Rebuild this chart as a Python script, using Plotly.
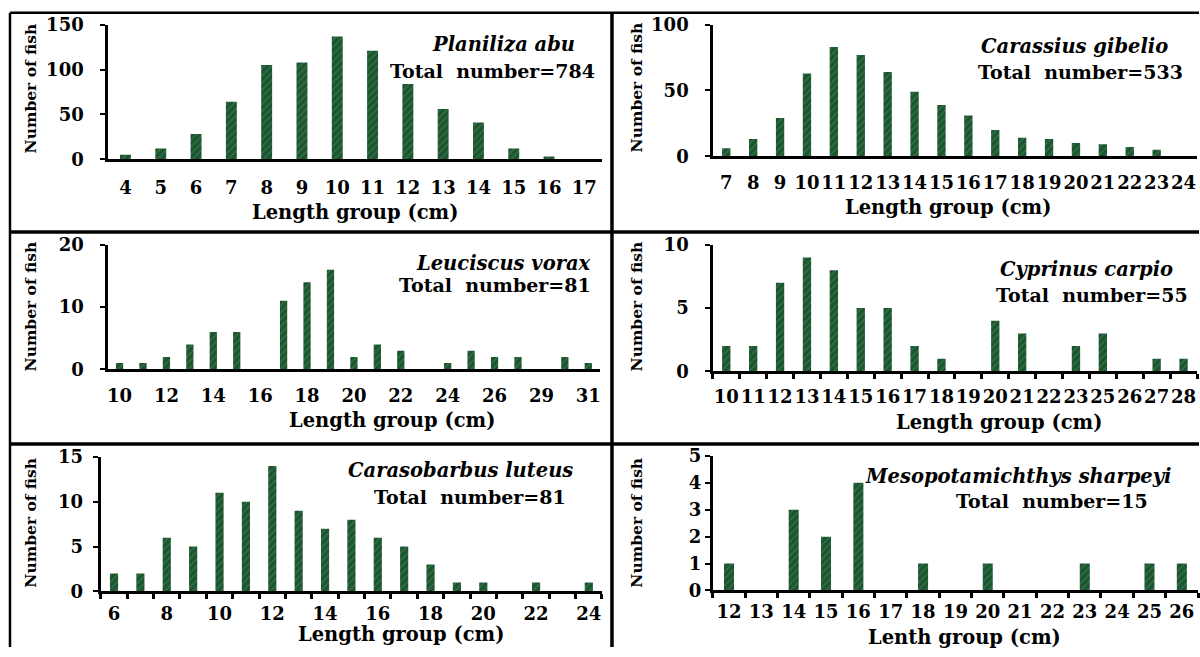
import plotly.graph_objects as go

# ---------------- data ----------------
abu_len = ["4", "5", "6", "7", "8", "9", "10", "11", "12", "13", "14", "15", "16", "17"]
abu_n = [5, 12, 28, 64, 105, 108, 137, 121, 84, 56, 41, 12, 3, 0]

gib_len = ["7", "8", "9", "10", "11", "12", "13", "14", "15", "16", "17", "18", "19", "20", "21", "22", "23", "24"]
gib_n = [6, 13, 29, 63, 83, 77, 64, 49, 39, 31, 20, 14, 13, 10, 9, 7, 5, 0]

vor_len = ["10", "11", "12", "13", "14", "15", "16", "17", "18", "19", "20", "21", "22", "23", "24", "25", "26", "27", "29", "30", "31"]
vor_n = [1, 1, 2, 4, 6, 6, 0, 11, 14, 16, 2, 4, 3, 0, 1, 3, 2, 2, 0, 2, 1]

car_len = ["10", "11", "12", "13", "14", "15", "16", "17", "18", "19", "20", "21", "22", "23", "25", "26", "27", "28"]
car_n = [2, 2, 7, 9, 8, 5, 5, 2, 1, 0, 4, 3, 0, 2, 3, 0, 1, 1]

lut_len = ["6", "7", "8", "9", "10", "11", "12", "13", "14", "15", "16", "17", "18", "19", "20", "21", "22", "23", "24"]
lut_n = [2, 2, 6, 5, 11, 10, 14, 9, 7, 8, 6, 5, 3, 1, 1, 0, 1, 0, 1]

sha_len = ["12", "13", "14", "15", "16", "17", "18", "19", "20", "21", "22", "23", "24", "25", "26"]
sha_n = [1, 0, 3, 2, 4, 0, 1, 0, 1, 0, 0, 1, 0, 1, 1]

species = ["Planiliza abu", "Carassius gibelio", "Leuciscus vorax",
           "Cyprinus carpio", "Carasobarbus luteus", "Mesopotamichthys sharpeyi"]
totals = [784, 533, 81, 55, 81, 15]
x_titles = ["Length group (cm)", "Length group (cm)", "Length group (cm)",
            "Length group (cm)", "Length group (cm)", "Lenth group (cm)"]
y_title = "Number of fish"
y_max = [150, 100, 20, 10, 15, 5]
y_dtick = [50, 50, 10, 5, 5, 1]

# ---------------- layout helpers ----------------
W, H = 1200, 657
Y0, SY = 8.2, 0.972   # observed vertical placement of the figure in the screenshot
def px(x):
    return min(max(x / W, 0), 1)
def py(y):
    return min(max(1 - ((y - Y0) / SY) / H, 0), 1)

FONT = "DejaVu Serif"
BAR = "#1d5530"
NB = "\u00a0"

panels = [
    dict(cats=abu_len, vals=abu_n, x=(107, 602), y=(157, 22), xt=(355, 211), yt=(30, 86),
         sp=(577, 42), tn=(597, 68), every=1, xticks=False, stand=10, ygap=2),
    dict(cats=gib_len, vals=gib_n, x=(713, 1198), y=(154, 22), xt=(949, 206), yt=(637, 85),
         sp=(1171, 44), tn=(1186, 69), every=1, xticks=False, stand=8, ygap=2),
    dict(cats=vor_len, vals=vor_n, x=(107, 600), y=(368, 243), xt=(392, 419), yt=(30, 305),
         sp=(593, 262), tn=(593, 283), every=2, xticks=False, stand=8, ygap=2),
    dict(cats=car_len, vals=car_n, x=(713, 1198), y=(370, 243), xt=(1000, 421), yt=(637, 305),
         sp=(1176, 268), tn=(1191, 293), every=1, xticks=True, stand=7, ygap=2),
    dict(cats=lut_len, vals=lut_n, x=(100, 602), y=(591, 456), xt=(401, 634), yt=(30, 522),
         sp=(575, 470), tn=(568, 496), every=2, xticks=True, stand=4, ygap=1),
    dict(cats=sha_len, vals=sha_n, x=(713, 1199), y=(590, 455), xt=(965, 637), yt=(637, 522),
         sp=(1174, 476), tn=(1151, 500), every=1, xticks=True, stand=3, ygap=0),
]

fig = go.Figure()
annotations = []
for i, p in enumerate(panels):
    k = "" if i == 0 else str(i + 1)
    xa, ya = "x" + k, "y" + k
    fig.add_trace(go.Bar(
        x=p["cats"], y=p["vals"], xaxis=xa, yaxis=ya, showlegend=False,
        marker=dict(color=BAR, line=dict(width=0),
                    pattern=dict(shape="/", fgcolor="#4e9463", bgcolor=BAR, size=5, solidity=0.25)),
        width=0.31,
    ))
    xaxis = dict(
        domain=[px(p["x"][0]), px(p["x"][1])], anchor=ya, type="category",
        showline=True, linecolor="black", linewidth=3, showgrid=False, zeroline=False,
        tickfont=dict(family=FONT, size=18, color="black", weight="bold"), tickangle=0,
        tickmode="array", tickvals=p["cats"][::p["every"]], ticktext=p["cats"][::p["every"]],
        ticklabelstandoff=p["stand"], fixedrange=True,
    )
    if p["xticks"]:
        xaxis.update(ticks="outside", tickson="boundaries", ticklen=5, tickwidth=3, tickcolor="black",
                     tickvals=p["cats"], ticktext=[c if j % p["every"] == 0 else "" for j, c in enumerate(p["cats"])])
    else:
        xaxis.update(ticks="")
    yaxis = dict(
        domain=[py(p["y"][0]), py(p["y"][1])], anchor=xa, range=[0, y_max[i]],
        dtick=y_dtick[i], tick0=0, showline=True, linecolor="black", linewidth=3,
        showgrid=False, zeroline=False, ticks="outside", ticklen=5, tickwidth=2, tickcolor="black",
        ticksuffix=NB * p["ygap"],
        tickfont=dict(family=FONT, size=18, color="black", weight="bold"), fixedrange=True,
    )
    fig.update_layout({"xaxis" + k: xaxis, "yaxis" + k: yaxis})

    annotations.append(dict(text=x_titles[i], x=px(p["xt"][0]), y=py(p["xt"][1]), xref="paper", yref="paper",
                            showarrow=False, xanchor="center", yanchor="middle",
                            font=dict(family=FONT, size=19.5, color="black", weight="bold")))
    annotations.append(dict(text=y_title, x=px(p["yt"][0]), y=py(p["yt"][1]), xref="paper", yref="paper",
                            showarrow=False, textangle=-90, xanchor="center", yanchor="middle",
                            font=dict(family=FONT, size=15.5, color="black", weight="bold")))
    annotations.append(dict(text=species[i], x=px(p["sp"][0]), y=py(p["sp"][1]), xref="paper", yref="paper",
                            showarrow=False, xanchor="right", yanchor="middle",
                            font=dict(family=FONT, size=19.5, color="black", weight="bold", style="italic")))
    annotations.append(dict(text="Total  number=" + str(totals[i]), x=px(p["tn"][0]), y=py(p["tn"][1]),
                            xref="paper", yref="paper", showarrow=False, xanchor="right", yanchor="middle",
                            font=dict(family=FONT, size=19, color="black", weight="bold")))

shapes = [
    dict(type="line", xref="paper", yref="paper", x0=px(9), x1=1, y0=py(10), y1=py(10), line=dict(color="black", width=2.5)),
    dict(type="line", xref="paper", yref="paper", x0=px(9), x1=px(9), y0=py(10), y1=0, line=dict(color="black", width=2.5)),
    dict(type="line", xref="paper", yref="paper", x0=px(612), x1=px(612), y0=py(10), y1=0, line=dict(color="black", width=3.5)),
    dict(type="line", xref="paper", yref="paper", x0=px(9), x1=1, y0=py(230), y1=py(230), line=dict(color="black", width=3.5)),
    dict(type="line", xref="paper", yref="paper", x0=px(9), x1=1, y0=py(443), y1=py(443), line=dict(color="black", width=3.5)),
]

fig.update_layout(
    width=W, height=H, margin=dict(l=0, r=0, t=0, b=0), autosize=False,
    paper_bgcolor="white", plot_bgcolor="white",
    bargap=0.68, annotations=annotations, shapes=shapes,
)

fig.write_html(
    "out.html",
    config={"responsive": False, "displayModeBar": False},
    post_script="document.body.style.margin='0';document.body.style.padding='0';document.body.style.overflow='hidden';",
)
